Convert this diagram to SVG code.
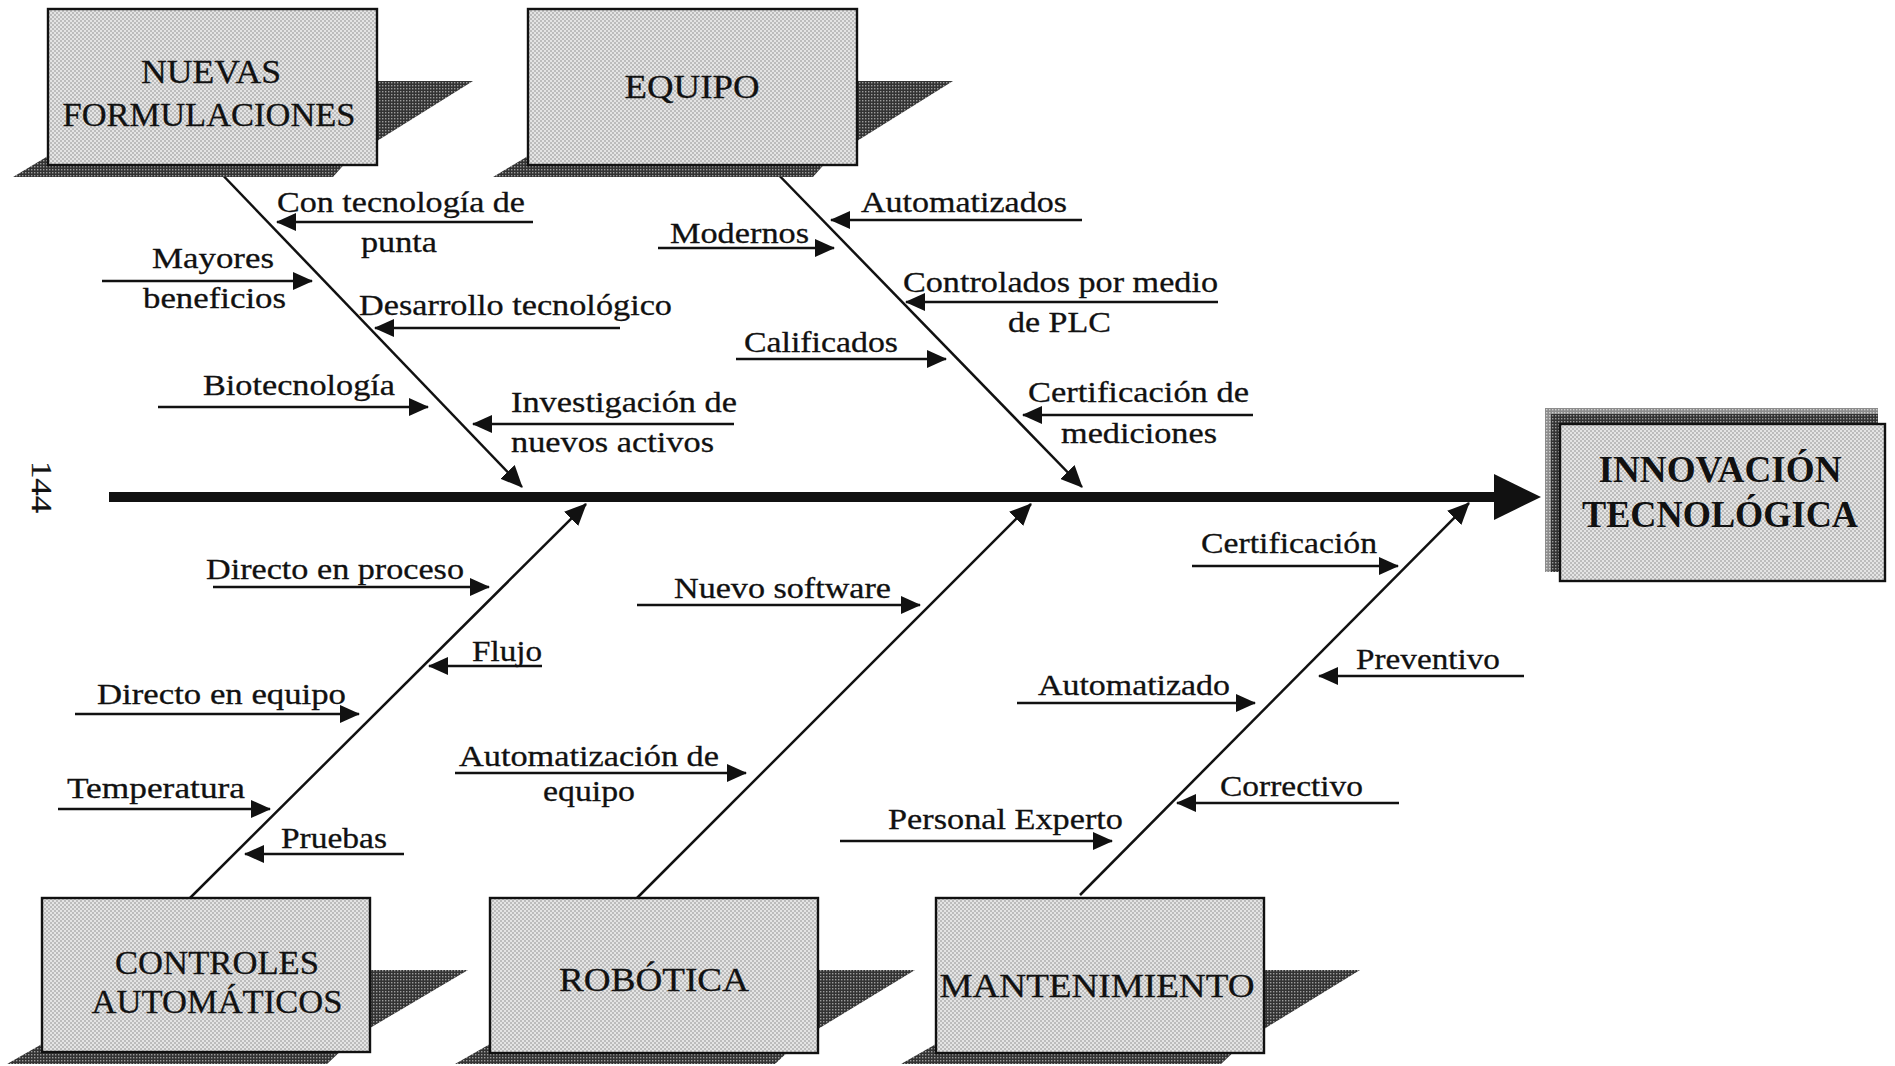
<svg xmlns="http://www.w3.org/2000/svg" width="1895" height="1066" viewBox="0 0 1895 1066">
<style>
.box{fill:url(#pBox);stroke:#111;stroke-width:2.4}
.sh{fill:url(#pSh)}
.bt{font-family:"Liberation Serif","Times New Roman",serif;font-size:34px;fill:#111;stroke:#111;stroke-width:0.3;text-anchor:middle}
.bb{font-family:"Liberation Serif","Times New Roman",serif;font-size:37px;font-weight:bold;fill:#111;text-anchor:middle}
.lb{font-family:"Liberation Serif","Times New Roman",serif;font-size:30px;fill:#111;stroke:#111;stroke-width:0.3}
.ar{stroke:#111;stroke-width:2.4;fill:none;marker-end:url(#ah)}
.br{stroke:#111;stroke-width:2.5;fill:none;marker-end:url(#ahB)}
</style>
<defs>
<pattern id="pBox" width="4" height="4" patternUnits="userSpaceOnUse">
<rect width="4" height="4" fill="#e4e4e4"/>
<circle cx="1" cy="1" r="0.8" fill="#8a8a8a"/>
<circle cx="3" cy="3" r="0.8" fill="#8a8a8a"/>
</pattern>
<pattern id="pSh" width="3" height="3" patternUnits="userSpaceOnUse">
<rect width="3" height="3" fill="#333"/>
<rect x="1" y="1" width="1.4" height="1.4" fill="#9c9c9c"/>
</pattern>
<pattern id="pSh2" width="3" height="3" patternUnits="userSpaceOnUse">
<rect width="3" height="3" fill="#8c8c8c"/>
<rect x="1" y="1" width="1.4" height="1.4" fill="#d0d0d0"/>
</pattern>
<marker id="ah" viewBox="0 0 20 18" refX="19" refY="9" markerWidth="20" markerHeight="18" markerUnits="userSpaceOnUse" orient="auto">
<path d="M0,0 L20,9 L0,18 z" fill="#111"/>
</marker>
<marker id="ahB" viewBox="0 0 22 20" refX="21" refY="10" markerWidth="22" markerHeight="20" markerUnits="userSpaceOnUse" orient="auto">
<path d="M0,0 L22,10 L0,20 z" fill="#111"/>
</marker>
</defs>
<rect width="1895" height="1066" fill="#fff"/>

<text class="lb" transform="translate(32,461) rotate(90)" font-size="36" textLength="52" lengthAdjust="spacingAndGlyphs">144</text>

<g id="connectors">
<rect x="109" y="492" width="1388" height="10" fill="#111"/>
<polygon points="1494,474 1541,497 1494,520" fill="#111"/>
<line class="br" x1="214" y1="166" x2="522" y2="487"/>
<line class="br" x1="770" y1="166" x2="1082" y2="487"/>
<line class="br" x1="190" y1="898" x2="586" y2="504"/>
<line class="br" x1="637" y1="898" x2="1031" y2="504"/>
<line class="br" x1="1080" y1="895" x2="1469" y2="503"/>
<line class="ar" x1="533" y1="222" x2="277" y2="222"/>
<line class="ar" x1="102" y1="281" x2="312" y2="281"/>
<line class="ar" x1="620" y1="328" x2="375" y2="328"/>
<line class="ar" x1="158" y1="407" x2="428" y2="407"/>
<line class="ar" x1="734" y1="424" x2="473" y2="424"/>
<line class="ar" x1="1082" y1="220" x2="831" y2="220"/>
<line class="ar" x1="658" y1="248" x2="834" y2="248"/>
<line class="ar" x1="1218" y1="302" x2="906" y2="302"/>
<line class="ar" x1="736" y1="359" x2="946" y2="359"/>
<line class="ar" x1="1253" y1="415" x2="1023" y2="415"/>
<line class="ar" x1="213" y1="587" x2="489" y2="587"/>
<line class="ar" x1="542" y1="666" x2="429" y2="666"/>
<line class="ar" x1="75" y1="714" x2="359" y2="714"/>
<line class="ar" x1="58" y1="809" x2="270" y2="809"/>
<line class="ar" x1="404" y1="854" x2="245" y2="854"/>
<line class="ar" x1="637" y1="605" x2="920" y2="605"/>
<line class="ar" x1="455" y1="773" x2="746" y2="773"/>
<line class="ar" x1="840" y1="841" x2="1112" y2="841"/>
<line class="ar" x1="1192" y1="566" x2="1398" y2="566"/>
<line class="ar" x1="1524" y1="676" x2="1319" y2="676"/>
<line class="ar" x1="1017" y1="703" x2="1255" y2="703"/>
<line class="ar" x1="1399" y1="803" x2="1177" y2="803"/>
</g>

<g id="labels">
<text class="lb" x="277" y="212" textLength="248" lengthAdjust="spacingAndGlyphs">Con tecnología de</text>
<text class="lb" x="361" y="252" textLength="76" lengthAdjust="spacingAndGlyphs">punta</text>
<text class="lb" x="152" y="268" textLength="122" lengthAdjust="spacingAndGlyphs">Mayores</text>
<text class="lb" x="143" y="308" textLength="143" lengthAdjust="spacingAndGlyphs">beneficios</text>
<text class="lb" x="359" y="315" textLength="313" lengthAdjust="spacingAndGlyphs">Desarrollo tecnológico</text>
<text class="lb" x="203" y="395" textLength="192" lengthAdjust="spacingAndGlyphs">Biotecnología</text>
<text class="lb" x="511" y="412" textLength="226" lengthAdjust="spacingAndGlyphs">Investigación de</text>
<text class="lb" x="511" y="452" textLength="203" lengthAdjust="spacingAndGlyphs">nuevos activos</text>
<text class="lb" x="861" y="212" textLength="206" lengthAdjust="spacingAndGlyphs">Automatizados</text>
<text class="lb" x="670" y="243" textLength="139" lengthAdjust="spacingAndGlyphs">Modernos</text>
<text class="lb" x="903" y="292" textLength="315" lengthAdjust="spacingAndGlyphs">Controlados por medio</text>
<text class="lb" x="1008" y="332" textLength="103" lengthAdjust="spacingAndGlyphs">de PLC</text>
<text class="lb" x="744" y="352" textLength="154" lengthAdjust="spacingAndGlyphs">Calificados</text>
<text class="lb" x="1028" y="402" textLength="221" lengthAdjust="spacingAndGlyphs">Certificación de</text>
<text class="lb" x="1061" y="443" textLength="156" lengthAdjust="spacingAndGlyphs">mediciones</text>
<text class="lb" x="206" y="579" textLength="258" lengthAdjust="spacingAndGlyphs">Directo en proceso</text>
<text class="lb" x="472" y="661" textLength="70" lengthAdjust="spacingAndGlyphs">Flujo</text>
<text class="lb" x="97" y="704" textLength="249" lengthAdjust="spacingAndGlyphs">Directo en equipo</text>
<text class="lb" x="67" y="798" textLength="178" lengthAdjust="spacingAndGlyphs">Temperatura</text>
<text class="lb" x="281" y="848" textLength="106" lengthAdjust="spacingAndGlyphs">Pruebas</text>
<text class="lb" x="674" y="598" textLength="217" lengthAdjust="spacingAndGlyphs">Nuevo software</text>
<text class="lb" x="459" y="766" textLength="260" lengthAdjust="spacingAndGlyphs">Automatización de</text>
<text class="lb" x="543" y="801" textLength="92" lengthAdjust="spacingAndGlyphs">equipo</text>
<text class="lb" x="888" y="829" textLength="235" lengthAdjust="spacingAndGlyphs">Personal Experto</text>
<text class="lb" x="1201" y="553" textLength="176" lengthAdjust="spacingAndGlyphs">Certificación</text>
<text class="lb" x="1356" y="669" textLength="144" lengthAdjust="spacingAndGlyphs">Preventivo</text>
<text class="lb" x="1038" y="695" textLength="192" lengthAdjust="spacingAndGlyphs">Automatizado</text>
<text class="lb" x="1220" y="796" textLength="143" lengthAdjust="spacingAndGlyphs">Correctivo</text>
</g>

<g id="node-nuevas-formulaciones">
<polygon class="sh" points="377,81 473,81 377,141"/>
<polygon class="sh" points="48,156 13,177 333,177 348,160 48,160"/>
<rect class="box" x="48" y="9" width="329" height="156"/>
<text class="bt" x="211" y="83" textLength="140" lengthAdjust="spacingAndGlyphs">NUEVAS</text>
<text class="bt" x="209" y="126" textLength="293" lengthAdjust="spacingAndGlyphs">FORMULACIONES</text>
</g>

<g id="node-equipo">
<polygon class="sh" points="857,81 953,81 857,141"/>
<polygon class="sh" points="528,156 493,177 813,177 828,160 528,160"/>
<rect class="box" x="528" y="9" width="329" height="156"/>
<text class="bt" x="692" y="98" textLength="135" lengthAdjust="spacingAndGlyphs">EQUIPO</text>
</g>

<g id="node-controles-automaticos">
<polygon class="sh" points="370,970 468,970 370,1028"/>
<polygon class="sh" points="42,1044 7,1064 327,1064 344,1048 42,1048"/>
<rect class="box" x="42" y="898" width="328" height="154"/>
<text class="bt" x="217" y="974" textLength="204" lengthAdjust="spacingAndGlyphs">CONTROLES</text>
<text class="bt" x="217" y="1013" textLength="251" lengthAdjust="spacingAndGlyphs">AUTOMÁTICOS</text>
</g>

<g id="node-robotica">
<polygon class="sh" points="818,970 915,970 818,1029"/>
<polygon class="sh" points="490,1044 455,1064 775,1064 792,1048 490,1048"/>
<rect class="box" x="490" y="898" width="328" height="155"/>
<text class="bt" x="654" y="991" textLength="190" lengthAdjust="spacingAndGlyphs">ROBÓTICA</text>
</g>

<g id="node-mantenimiento">
<polygon class="sh" points="1264,970 1360,970 1264,1029"/>
<polygon class="sh" points="936,1044 901,1064 1221,1064 1238,1048 936,1048"/>
<rect class="box" x="936" y="898" width="328" height="155"/>
<text class="bt" x="1097" y="997" textLength="315" lengthAdjust="spacingAndGlyphs">MANTENIMIENTO</text>
</g>

<g id="node-innovacion-tecnologica">
<rect x="1545" y="408" width="333" height="164" fill="url(#pSh2)"/>
<rect x="1551" y="414" width="327" height="158" fill="url(#pSh)"/>
<rect class="box" x="1560" y="424" width="325" height="157"/>
<text class="bb" x="1720" y="482" textLength="243" lengthAdjust="spacingAndGlyphs">INNOVACIÓN</text>
<text class="bb" x="1720" y="527" textLength="276" lengthAdjust="spacingAndGlyphs">TECNOLÓGICA</text>
</g>
</svg>
